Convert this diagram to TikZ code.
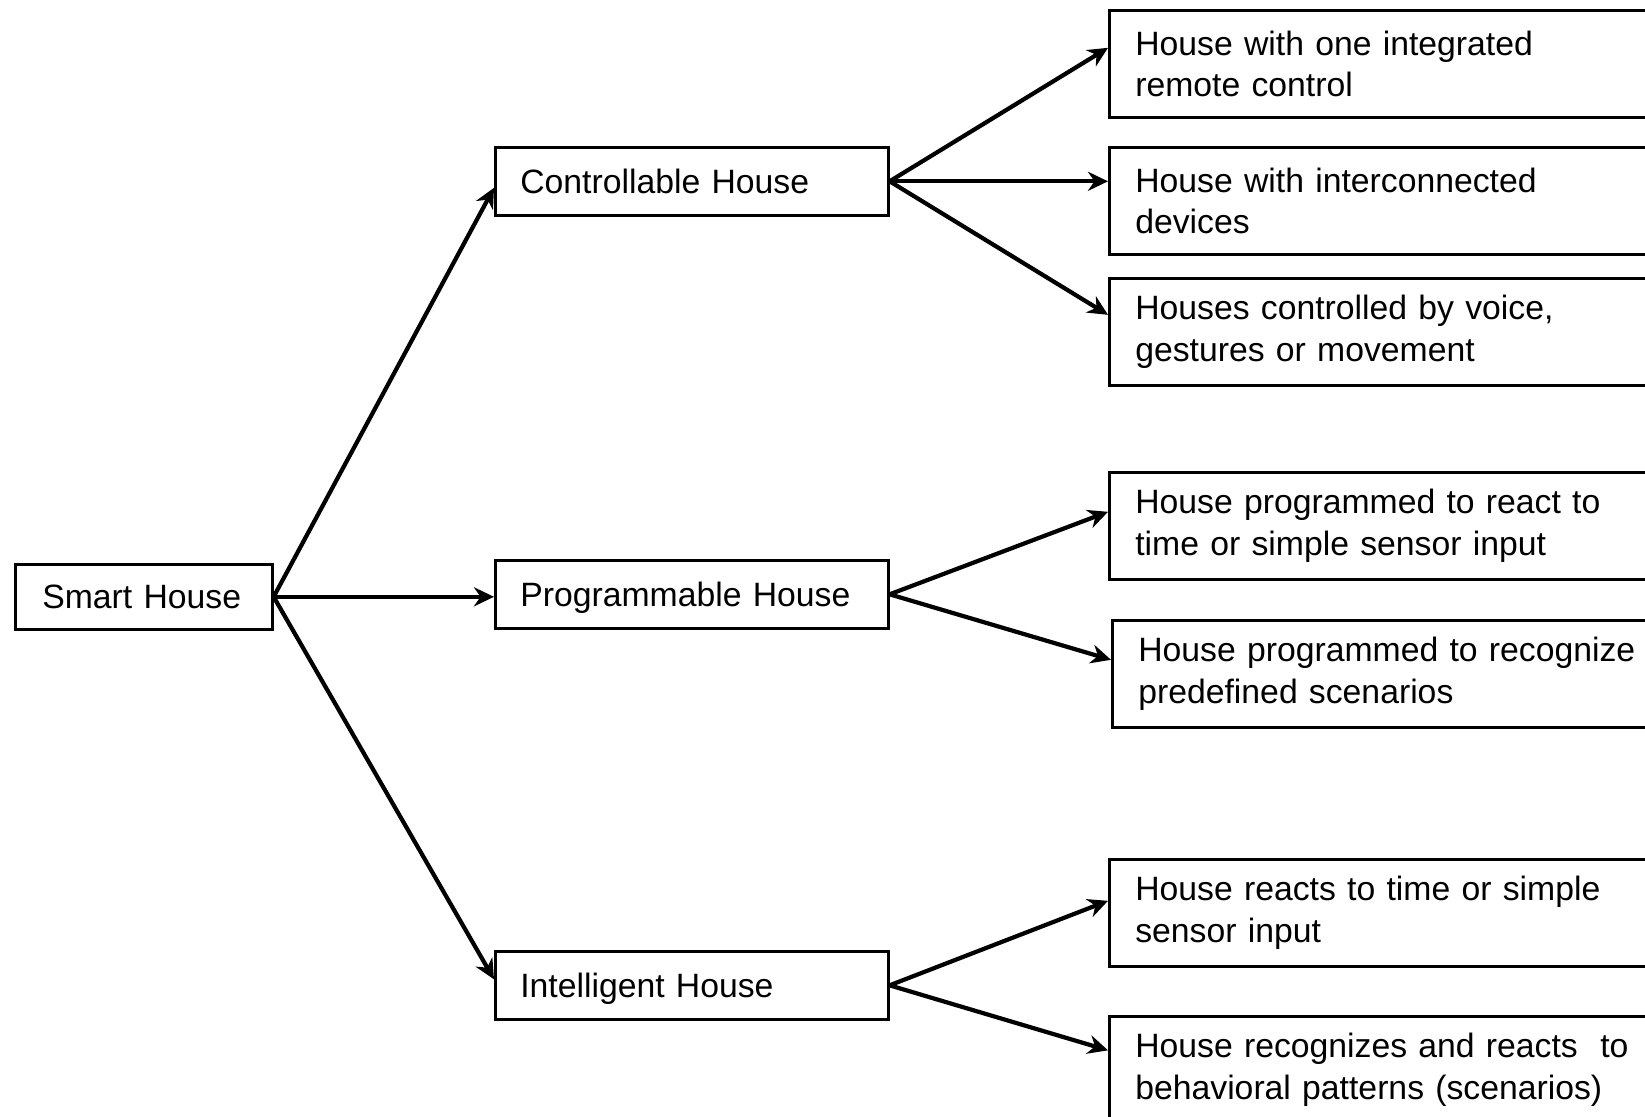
\documentclass[tikz,border=0pt]{standalone}
\usepackage{fontspec}
\setmainfont{Liberation Sans}
\usetikzlibrary{arrows.meta}
\begin{document}
\begin{tikzpicture}[x=0.1mm,y=-0.1mm,
  box/.style={draw,line width=0.75pt,anchor=north west,align=left,inner ysep=0pt,
    font=\fontsize{9.6}{11.7}\selectfont},
  root/.style={box,text width=20.3mm,inner xsep=2.7mm,minimum height=6.5mm,text depth=0pt},
  mid/.style={box,text width=34.3mm,inner xsep=2.5mm,minimum height=6.8mm,text depth=0pt},
  leaf/.style={box,text width=54.8mm,inner xsep=2.6mm,minimum height=10.7mm},
  arr/.style={line width=1.2pt,-{Stealth[length=2mm,width=1.9mm]}}]
\useasboundingbox (0,0) rectangle (1645,1117);
\clip (0,0) rectangle (1645,1117);

\node[root] (smart) at (14,563) {Smart House};

\node[mid] (ctrl) at (494,146) {Controllable House};
\node[mid] (prog) at (494,559) {Programmable House};
\node[mid] (intel) at (494,950) {Intelligent House};

\node[leaf] (r1) at (1108,9) {House with one integrated\\remote control};
\node[leaf] (r2) at (1108,146) {House with interconnected\\devices};
\node[leaf] (r3) at (1108,277) {Houses controlled by voice,\\gestures or movement};
\node[leaf] (r4) at (1108,471) {House programmed to react to\\time or simple sensor input};
\node[leaf] (r5) at (1111,619) {House programmed to recognize\\predefined scenarios};
\node[leaf] (r6) at (1108,858) {House reacts to time or simple\\sensor input};
\node[leaf] (r7) at (1108,1015) {House recognizes and reacts\ \ to\\behavioral patterns (scenarios)};

\path[draw,arr] (smart.east) -- ([yshift=-0.65mm]ctrl.west);
\path[draw,arr] (smart.east) -- (smart.east -| prog.west);
\path[draw,arr] (smart.east) -- ([yshift=0.6mm]intel.west);

\path[draw,arr] (ctrl.east) -- ([yshift=1.6mm]r1.west);
\path[draw,arr] (ctrl.east) -- (ctrl.east -| r2.west);
\path[draw,arr] (ctrl.east) -- ([yshift=1.7mm]r3.west);

\path[draw,arr] (prog.east) -- ([yshift=1.4mm]r4.west);
\path[draw,arr] (prog.east) -- ([yshift=1.4mm]r5.west);

\path[draw,arr] (intel.east) -- ([yshift=1.2mm]r6.west);
\path[draw,arr] (intel.east) -- ([yshift=1.95mm]r7.west);
\end{tikzpicture}
\end{document}
